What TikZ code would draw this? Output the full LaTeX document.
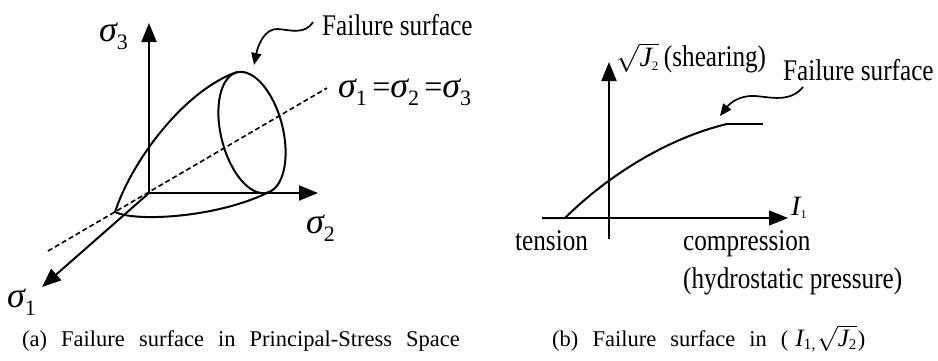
\RequirePackage{fix-cm}
\documentclass[tikz,border=0pt]{standalone}
\usepackage{fontspec}
\setmainfont{Liberation Serif}[FakeStretch=0.84]
\newfontfamily\plainfont{Liberation Serif}
\newfontfamily\capfont{Liberation Serif}[WordSpace=2.5]
\usetikzlibrary{arrows.meta}
\newcommand\sig[1]{{\plainfont\itshape\fontsize{36}{36}\selectfont σ}\raisebox{-8pt}{\plainfont\fontsize{22}{22}\selectfont #1}}
\newcommand\eqs{{\plainfont\fontsize{32}{32}\selectfont\,=}}
\begin{document}
\begin{tikzpicture}[x=1pt,y=-1pt,
  axis/.style={line width=2pt,-{Triangle[width=15pt,length=19pt]}},
  thinaxis/.style={line width=1.4pt,-{Triangle[width=15pt,length=19pt]}},
  curve/.style={line width=2pt},
  pointer/.style={line width=1.7pt,-{Triangle[width=10pt,length=12pt]}},
  diag/.style={line width=1.6pt,dash pattern=on 5pt off 3pt},
  lbl/.style={inner sep=0pt,font=\fontsize{30}{30}\selectfont},
  captxt/.style={inner sep=0pt,font=\capfont\fontsize{22.5}{22.5}\selectfont}]
\useasboundingbox (0,0) rectangle (938,360);
% ---------- (a) principal stress space ----------
\coordinate (O) at (149,193);
\coordinate (s3tip) at (149,23);
\coordinate (s2tip) at (318,193);
\coordinate (s1tip) at (42,287);
\coordinate (dA) at (48,251);
\coordinate (dB) at (327,88);
\coordinate (E) at (252,132.5);
\coordinate (apex) at (115,212);
\coordinate (etop) at (237,72);
\coordinate (ebot) at (267,193);
\draw[axis] (O) -- (s3tip);
\draw[axis] (O) -- (s2tip);
\draw[axis] (O) -- (s1tip);
\draw[diag] (dA) -- (dB);
\draw[curve,rotate around={-76:(E)}] (E) ellipse[x radius=62,y radius=31];
\draw[curve] (apex) .. controls (132,160) and (185,90) .. (etop);
\draw[curve] (apex) .. controls (135,222) and (215,218) .. (ebot);
\node[anchor=base west,inner sep=0pt] (l3) at (99,41) {\sig{3}};
\node[anchor=base west,inner sep=0pt] (l2) at (306,233) {\sig{2}};
\node[anchor=base west,inner sep=0pt] (l1) at (7,307) {\sig{1}};
\node[anchor=base west,inner sep=0pt] (eq) at (338,97) {\sig{1}\eqs\sig{2}\eqs\sig{3}};
\node[lbl,anchor=base west] (fsL) at (322,35) {Failure surface};
\coordinate (pLs) at (313,22);
\coordinate (pLm) at (278,29);
\coordinate (pLe) at (254,65);
\draw[pointer] (pLs) .. controls (305,35) and (290,30) .. (pLm) .. controls (265,28) and (258,45) .. (pLe);
\node[captxt,anchor=base west] (capA) at (22,346) {(a) Failure surface in Principal-Stress Space};
% ---------- (b) I1 - sqrt(J2) plane ----------
\coordinate (P) at (609,218);
\coordinate (vbot) at (609,239);
\coordinate (vtip) at (609,62);
\coordinate (hstart) at (542,218);
\coordinate (htip) at (788,218);
\coordinate (c0) at (565,218);
\coordinate (c1) at (727,124);
\coordinate (c2) at (763,124);
\draw[axis] (vbot) -- (vtip);
\draw[thinaxis] (hstart) -- (htip);
\draw[curve] (hstart) -- (c0) .. controls (600,183) and (660,140) .. (c1);
\draw[line width=1.2pt] (c1) -- (c2);
\node[anchor=base west,inner sep=0pt] (J2) at (616,66) {{\plainfont\fontsize{28}{28}\selectfont$\sqrt{\mbox{\itshape J}_{\mbox{\fontsize{13}{13}\selectfont 2}}}$}\hspace{5pt}{\fontsize{30}{30}\selectfont (shearing)}};
\node[lbl,anchor=base west] (fsR) at (783,80) {Failure surface};
\coordinate (pRs) at (803,87);
\coordinate (pRm) at (755,96);
\coordinate (pRe) at (720,116);
\draw[pointer] (pRs) .. controls (790,103) and (770,97) .. (pRm) .. controls (740,95) and (730,103) .. (pRe);
\node[anchor=base west,inner sep=0pt] (I1) at (791,215) {{\plainfont\fontsize{28}{28}\selectfont\itshape I}\raisebox{-3pt}{\plainfont\fontsize{12}{12}\selectfont 1}};
\node[lbl,anchor=base west] (ten) at (515,250) {tension};
\node[lbl,anchor=base west] (comp) at (683,250) {compression};
\node[lbl,anchor=base west] (hyd) at (683,288) {(hydrostatic pressure)};
\node[captxt,anchor=base west] (capB) at (552,346) {(b) Failure surface in (\hspace{7pt}{\fontsize{25}{25}\selectfont\itshape I}\textsubscript{1,}\hspace{1pt}{\fontsize{25}{25}\selectfont$\sqrt{\mbox{\itshape J}_{\mbox{\fontsize{15}{15}\selectfont 2}}}$}\hspace{1pt})};
\end{tikzpicture}
\end{document}
